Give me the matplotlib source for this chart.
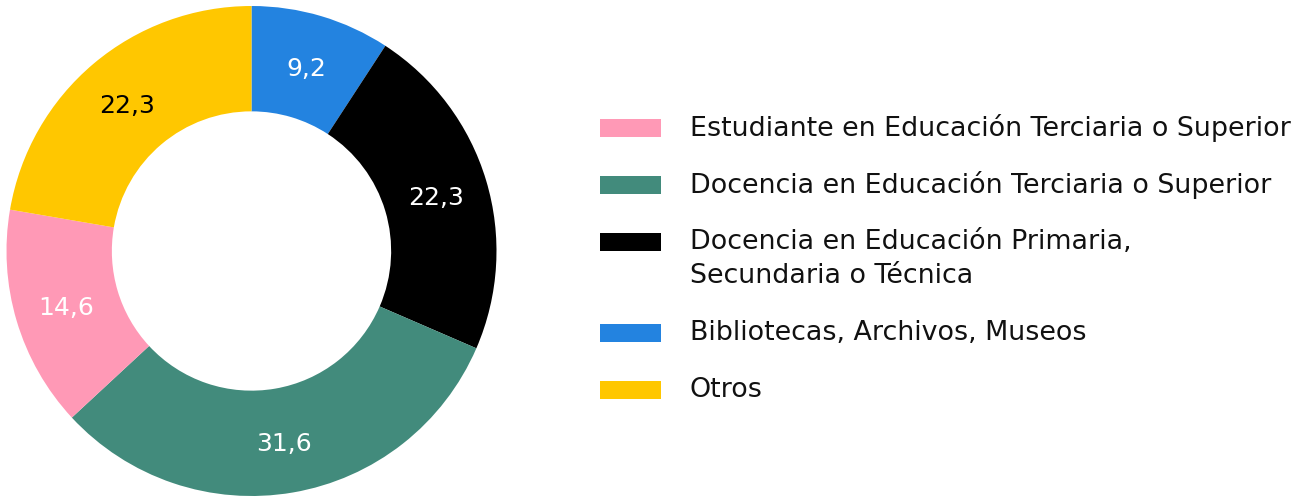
import numpy as np
import matplotlib
matplotlib.use('Agg')
import matplotlib.pyplot as plt
from matplotlib.patches import Rectangle

# clockwise from 12 o'clock
categories = ['Bibliotecas, Archivos, Museos',
              'Docencia en Educación Primaria,\nSecundaria o Técnica',
              'Docencia en Educación Terciaria o Superior',
              'Estudiante en Educación Terciaria o Superior',
              'Otros']
values = [9.2, 22.3, 31.6, 14.6, 22.3]
labels = ['9,2', '22,3', '31,6', '14,6', '22,3']
colors = ['#2383E0', '#000000', '#428B7C', '#FF99B6', '#FFC700']
label_colors = ['white', 'white', 'white', 'white', 'black']
legend_order = [3, 2, 1, 0, 4]

plt.rcParams['font.family'] = ['DejaVu Sans']

W, H = 1308, 498
fig = plt.figure(figsize=(W / 100, H / 100), dpi=100)
ax = fig.add_axes([6.5 / W, 2 / H, 490 / W, 490 / H])

wedges, _ = ax.pie(values, colors=colors, startangle=90, counterclock=False,
                   radius=1, wedgeprops=dict(width=0.43, linewidth=0))
for w, lab, c in zip(wedges, labels, label_colors):
    ang = np.deg2rad((w.theta1 + w.theta2) / 2)
    ax.text(0.787 * np.cos(ang), 0.787 * np.sin(ang), lab, color=c,
            fontsize=18, ha='center', va='center_baseline')
ax.set_xlim(-1, 1)
ax.set_ylim(-1, 1)
ax.set_aspect('equal')
ax.axis('off')

# legend drawn by hand: swatch lines up with the first text line
y = 128
for i in legend_order:
    fig.add_artist(Rectangle((600 / W, 1 - (y + 9) / H), 61 / W, 18 / H,
                             transform=fig.transFigure, facecolor=colors[i],
                             edgecolor='none'))
    for k, line in enumerate(categories[i].split('\n')):
        fig.text(690 / W, 1 - (y + 34 * k) / H, line, fontsize=19.4,
                 ha='left', va='center', color='#111111')
    y += 57 + 34 * categories[i].count('\n')

fig.savefig('out.png', dpi=100)
